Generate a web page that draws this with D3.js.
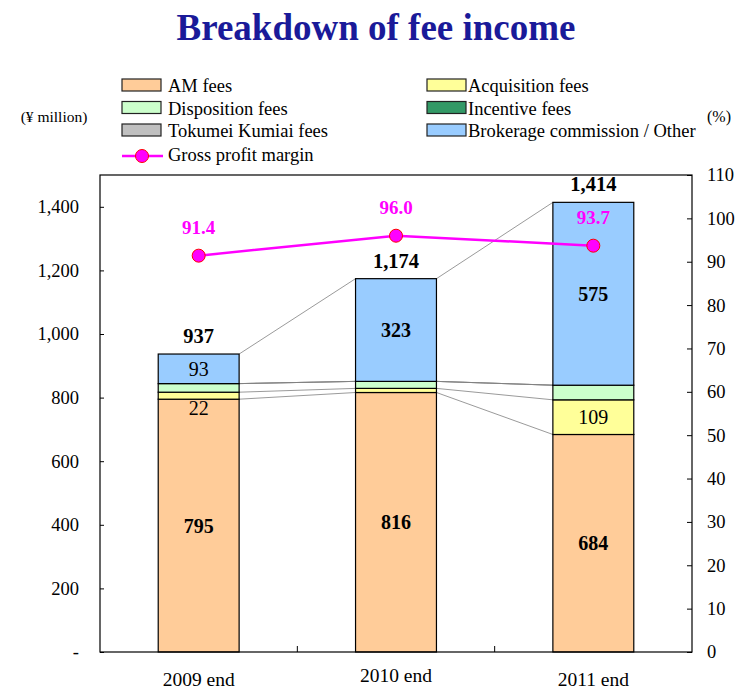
<!DOCTYPE html>
<html>
<head>
<meta charset="utf-8">
<script src="https://cdn.jsdelivr.net/npm/d3@7.9.0/dist/d3.min.js"></script>
<style>
  body { margin: 0; background: #fff; }
</style>
</head>
<body>
<svg id="chart" width="737" height="689"></svg>
<script>
// data
const years = ['2009 end', '2010 end', '2011 end'];
const amFees = [795, 816, 684];
const acquisitionFees = [22, 13, 109];
const dispositionFees = [27, 22, 46];
const incentiveFees = [0, 0, 0];
const tokumeiFees = [0, 0, 0];
const brokerageFees = [93, 323, 575];
const totals = [937, 1174, 1414];
const grossMargin = [91.4, 96.0, 93.7];
const leftTicks = [0, 200, 400, 600, 800, 1000, 1200, 1400];
const rightTicks = [0, 10, 20, 30, 40, 50, 60, 70, 80, 90, 100, 110];

const series = [
  { key: 'am', name: 'AM fees', values: amFees, color: '#FFCC99' },
  { key: 'acq', name: 'Acquisition fees', values: acquisitionFees, color: '#FFFF99' },
  { key: 'disp', name: 'Disposition fees', values: dispositionFees, color: '#CCFFCC' },
  { key: 'inc', name: 'Incentive fees', values: incentiveFees, color: '#339966' },
  { key: 'tk', name: 'Tokumei Kumiai fees', values: tokumeiFees, color: '#C0C0C0' },
  { key: 'brk', name: 'Brokerage commission / Other', values: brokerageFees, color: '#99CCFF' }
];

const FONT = 'Liberation Serif';
const svg = d3.select('#chart');
const plot = { left: 100, right: 692, top: 175, bottom: 652 };

const x = d3.scaleBand().domain(years).range([plot.left, plot.right]).paddingInner(0.59).paddingOuter(0.295);
const y = d3.scaleLinear().domain([0, 1500]).range([plot.bottom, plot.top]);
const y2 = d3.scaleLinear().domain([0, 110]).range([plot.bottom, plot.top]);

// title
svg.append('text').attr('x', 376).attr('y', 40).attr('text-anchor', 'middle')
  .attr('font-size', 37).attr('font-weight', 'bold').attr('fill', '#1A1A99')
  .text('Breakdown of fee income');

svg.append('text').attr('x', 54).attr('y', 122).attr('text-anchor', 'middle')
  .attr('font-size', 15.5).text('(¥ million)');
svg.append('text').attr('x', 719).attr('y', 122).attr('text-anchor', 'middle')
  .attr('font-size', 16).text('(%)');

// legend
const legendItems = [
  { s: series[0], col: 0, row: 0 }, { s: series[1], col: 1, row: 0 },
  { s: series[2], col: 0, row: 1 }, { s: series[3], col: 1, row: 1 },
  { s: series[4], col: 0, row: 2 }, { s: series[5], col: 1, row: 2 }
];
const lg = svg.append('g');
legendItems.forEach(d => {
  const lx = d.col === 0 ? 122 : 427, ly = 79 + d.row * 22.5;
  lg.append('rect').attr('x', lx).attr('y', ly).attr('width', 39).attr('height', 12)
    .attr('fill', d.s.color).attr('stroke', '#222').attr('stroke-width', 1.2);
  lg.append('text').attr('x', d.col === 0 ? lx + 46 : lx + 41).attr('y', ly + 13).attr('font-size', 18.5).text(d.s.name);
});
lg.append('line').attr('x1', 122).attr('x2', 163).attr('y1', 156).attr('y2', 156)
  .attr('stroke', '#FF00FF').attr('stroke-width', 2.5);
lg.append('circle').attr('cx', 142).attr('cy', 156).attr('r', 6.5).attr('fill', '#FF00FF').attr('stroke', '#FF0000');
lg.append('text').attr('x', 168).attr('y', 161).attr('font-size', 18.5).text('Gross profit margin');

// stacked values
const table = years.map((yr, i) => {
  const o = { year: yr };
  series.forEach(s => o[s.key] = s.values[i]);
  return o;
});
const stacked = d3.stack().keys(series.map(s => s.key))(table);

// series lines between bars
const g = svg.append('g');
stacked.forEach(layer => {
  for (let i = 0; i < years.length - 1; i++) {
    g.append('line')
      .attr('x1', x(years[i]) + x.bandwidth()).attr('y1', y(layer[i][1]))
      .attr('x2', x(years[i + 1])).attr('y2', y(layer[i + 1][1]))
      .attr('stroke', '#808080').attr('stroke-width', 0.8);
  }
});

// bars
stacked.forEach((layer, li) => {
  g.selectAll(null).data(layer).join('rect')
    .attr('x', d => x(d.data.year))
    .attr('y', d => y(d[1]))
    .attr('width', x.bandwidth())
    .attr('height', d => y(d[0]) - y(d[1]))
    .attr('fill', series[li].color)
    .attr('stroke', '#000').attr('stroke-width', d => d[1] > d[0] ? 1.2 : 0);
});

// frame & axes
svg.append('rect').attr('x', plot.left).attr('y', plot.top)
  .attr('width', plot.right - plot.left).attr('height', plot.bottom - plot.top)
  .attr('fill', 'none').attr('stroke', '#000').attr('stroke-width', 1.2);

const leftAxis = svg.append('g').attr('transform', `translate(${plot.left},0)`)
  .call(d3.axisLeft(y).tickValues(leftTicks).tickSize(-4).tickPadding(21)
    .tickFormat(v => v === 0 ? '-' : d3.format(',')(v)));
const rightAxis = svg.append('g').attr('transform', `translate(${plot.right},0)`)
  .call(d3.axisRight(y2).tickValues(rightTicks).tickSize(-5).tickPadding(15));
[leftAxis, rightAxis].forEach(a => {
  a.select('.domain').remove();
  a.selectAll('text').attr('font-size', 18.5).attr('fill', '#000');
  a.selectAll('line').attr('stroke', '#000');
});

// category boundary ticks on x axis
const step = x.step();
[1, 2].forEach(k => {
  const bx = plot.left + step * k;
  svg.append('line').attr('x1', bx).attr('x2', bx).attr('y1', plot.bottom).attr('y2', plot.bottom - 6)
    .attr('stroke', '#000');
});

const labelY = [686, 682, 686];
years.forEach((yr, i) => {
  svg.append('text').attr('x', x(yr) + x.bandwidth() / 2).attr('y', labelY[i])
    .attr('text-anchor', 'middle').attr('font-size', 19.5).text(yr);
});

// segment labels
stacked.forEach((layer, li) => {
  const key = series[li].key;
  layer.forEach((d, i) => {
    const v = d[1] - d[0];
    const cx = x(years[i]) + x.bandwidth() / 2;
    let show = false, bold = false, ty = (y(d[0]) + y(d[1])) / 2 + 7;
    if (key === 'am') { show = true; bold = true; }
    if (key === 'acq' && (i === 0 || i === 2)) { show = true; if (i === 0) ty = y(d[0]) + 16; }
    if (key === 'brk') { show = true; bold = i > 0; }
    if (!show) return;
    svg.append('text').attr('x', cx).attr('y', ty).attr('text-anchor', 'middle')
      .attr('font-size', 20).attr('font-weight', bold ? 'bold' : 'normal').text(d3.format(',')(v));
  });
});

// totals
years.forEach((yr, i) => {
  svg.append('text').attr('x', x(yr) + x.bandwidth() / 2).attr('y', y(totals[i]) - 11)
    .attr('text-anchor', 'middle').attr('font-size', 20.5).attr('font-weight', 'bold')
    .text(d3.format(',')(totals[i]));
});

// gross profit margin line
const line = d3.line().x((d, i) => x(years[i]) + x.bandwidth() / 2).y(d => y2(d));
svg.append('path').datum(grossMargin).attr('d', line)
  .attr('fill', 'none').attr('stroke', '#FF00FF').attr('stroke-width', 2.5);
svg.selectAll('.mk').data(grossMargin).join('circle').attr('class', 'mk')
  .attr('cx', (d, i) => x(years[i]) + x.bandwidth() / 2).attr('cy', d => y2(d)).attr('r', 6.5)
  .attr('fill', '#FF00FF').attr('stroke', '#FF0000');
svg.selectAll('.ml').data(grossMargin).join('text').attr('class', 'ml')
  .attr('x', (d, i) => x(years[i]) + x.bandwidth() / 2).attr('y', d => y2(d) - 22)
  .attr('text-anchor', 'middle').attr('font-size', 19).attr('font-weight', 'bold')
  .attr('fill', '#FF00FF').text(d => d.toFixed(1));

// serif everywhere
svg.selectAll('text').attr('font-family', FONT);
</script>
</body>
</html>
